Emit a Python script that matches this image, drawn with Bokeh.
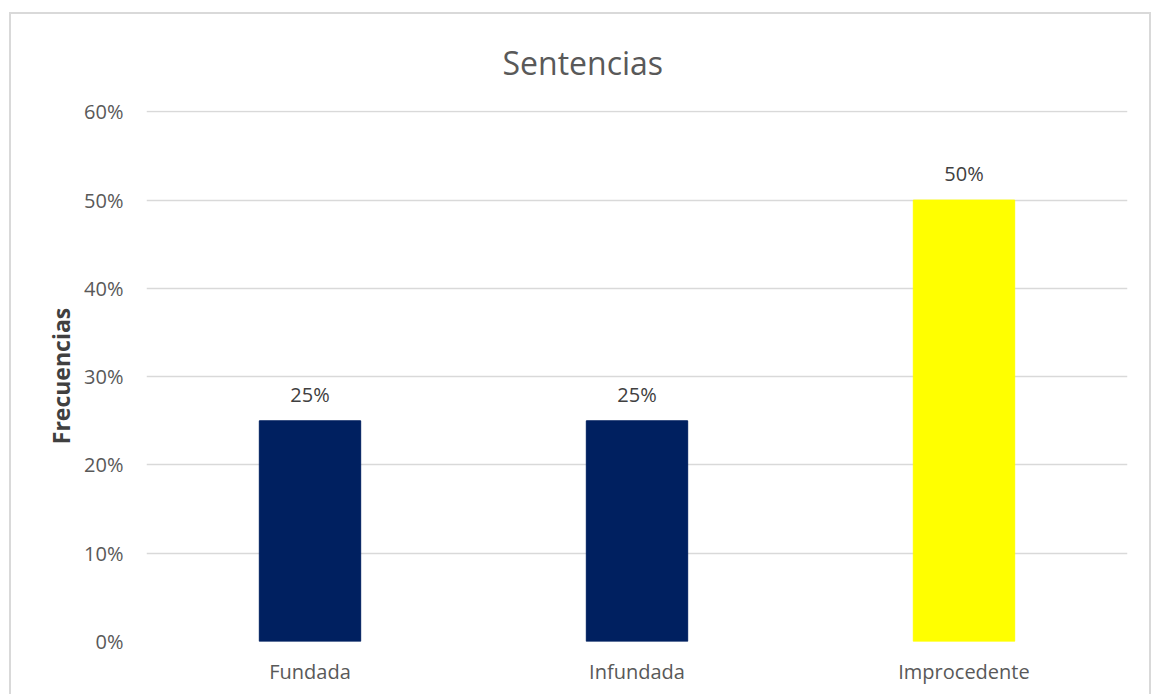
from bokeh.plotting import figure
from bokeh.models import ColumnDataSource, LabelSet, Title, NumeralTickFormatter, FixedTicker
from bokeh.core.properties import value
from bokeh.embed import file_html
from bokeh.resources import INLINE

categories = ["Fundada", "Infundada", "Improcedente"]
values = [0.25, 0.25, 0.50]
labels = ["25%", "25%", "50%"]
colors = ["#002060", "#002060", "#FFFF00"]
y_ticks = [0, 0.1, 0.2, 0.3, 0.4, 0.5, 0.6]
title_text = "Sentencias"

src = ColumnDataSource(dict(cat=categories, val=values, lab=labels, col=colors))

p = figure(x_range=categories, y_range=(0, 0.6015), width=1142, height=682,
           output_backend="svg", toolbar_location=None,
           min_border_left=135, min_border_right=26, min_border_top=96, min_border_bottom=55)
p.styles = {"border-top": "2px solid #d9d9d9", "border-left": "2px solid #d9d9d9",
            "border-right": "2px solid #d9d9d9", "margin-top": "12px", "margin-left": "9px"}
p.outline_line_color = None
p.background_fill_color = "white"
p.border_fill_color = "white"

t = Title(text=title_text, align="left", vertical_align="top", text_font="Open Sans",
          text_font_size="32px", text_font_style="normal", text_color="#595959",
          standoff=50, offset=356)
p.add_layout(t, "above")

p.vbar(x="cat", top="val", width=0.31, color="col", source=src)

ls = LabelSet(x="cat", y="val", text="lab", source=src, text_align="center", text_baseline="bottom",
              y_offset=13, text_font=value("Open Sans"), text_font_size=value("20px"),
              text_color="#404040")
p.add_layout(ls)

p.yaxis.ticker = FixedTicker(ticks=y_ticks)
p.yaxis.formatter = NumeralTickFormatter(format="0%")
for ax in (p.xaxis[0], p.yaxis[0]):
    ax.axis_line_color = None
    ax.major_tick_line_color = None
    ax.minor_tick_line_color = None
    ax.major_label_text_font = "Open Sans"
    ax.major_label_text_font_size = "20px"
    ax.major_label_text_color = "#595959"
p.yaxis.major_label_standoff = 17
p.xaxis.major_label_standoff = 10
p.yaxis.axis_label = "Frecuencias"
p.yaxis.axis_label_text_font = "Open Sans"
p.yaxis.axis_label_text_font_style = "bold"
p.yaxis.axis_label_text_font_size = "23px"
p.yaxis.axis_label_text_color = "#404040"
p.yaxis.axis_label_standoff = 4

p.xgrid.grid_line_color = None
p.ygrid.grid_line_color = "#d9d9d9"
p.ygrid.grid_line_width = 1.3

open("out.html", "w").write(file_html(p, INLINE))
